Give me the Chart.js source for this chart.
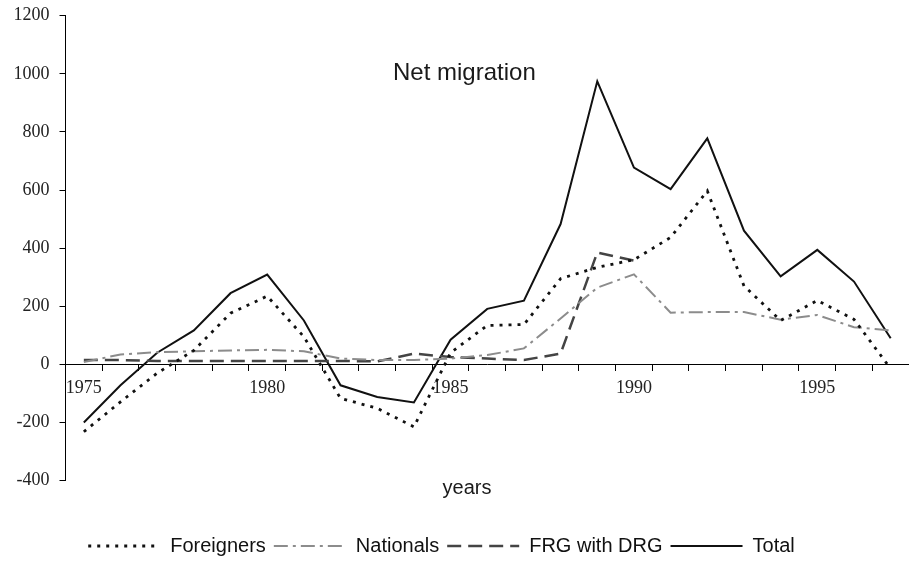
<!DOCTYPE html>
<html>
<head>
<meta charset="utf-8">
<script src="https://cdn.jsdelivr.net/npm/chart.js"></script>
<style>
html,body{margin:0;padding:0;background:#fff;overflow:hidden}
#wrap{width:909px;height:562px;position:relative}
</style>
</head>
<body>
<div id="wrap"><canvas id="c" width="909" height="562"></canvas></div>
<script>
// ---- data ----
const years = [1975,1976,1977,1978,1979,1980,1981,1982,1983,1984,1985,1986,1987,1988,1989,1990,1991,1992,1993,1994,1995,1996,1997];
const foreigners = [-232,-129,-30,48,176,235,95,-117,-151,-215,40,134,137,295,334,360,437,597,270,151,220,155,-15];
const nationals  = [8,34,42,45,48,50,45,20,15,15,20,32,55,158,264,310,178,180,180,154,170,128,117];
const frgWithDrg = [15,15,12,12,12,12,12,12,10,37,25,20,15,37,385,357,null,null,null,null,null,null,null];
const total      = [-200,-72,40,117,245,309,151,-72,-112,-131,85,191,219,483,974,677,603,778,460,303,394,285,90];
const seriesNames = ['Foreigners','Nationals','FRG with DRG','Total'];
const labeledYears = [1975,1980,1985,1990,1995];
const yTickValues = [-400,-200,0,200,400,600,800,1000,1200];
const chartTitle = 'Net migration';
const xAxisTitle = 'years';

const SERIF = "'Liberation Serif','Times New Roman',serif";
const SANS = "'Liberation Sans',Arial,sans-serif";
const LEG_SHIFT = -14;

const textPlugin = {
  id: 'texts',
  afterLayout(chart) {
    if (chart.legend) { chart.legend.left += LEG_SHIFT; chart.legend.right += LEG_SHIFT; }
  },
  afterDraw(chart) {
    const ctx = chart.ctx;
    ctx.save();
    ctx.fillStyle = '#1a1a1a';
    ctx.font = '24px ' + SANS;
    ctx.textAlign = 'left';
    ctx.textBaseline = 'alphabetic';
    ctx.fillText(chartTitle, 393, 79.5);
    ctx.font = '20px ' + SANS;
    ctx.textAlign = 'center';
    ctx.fillText(xAxisTitle, 467, 494);
    ctx.restore();
  }
};

const common = { pointRadius: 0, pointHoverRadius: 0, tension: 0, fill: false, borderCapStyle: 'butt', borderJoinStyle: 'miter', spanGaps: false };

new Chart(document.getElementById('c'), {
  type: 'line',
  data: {
    labels: years.map(String),
    datasets: [
      Object.assign({ label: seriesNames[0], data: foreigners, borderColor: '#111111', borderWidth: 2.8, borderDash: [3, 6] }, common),
      Object.assign({ label: seriesNames[1], data: nationals, borderColor: '#8c8c8c', borderWidth: 2, borderDash: [14, 5, 3, 5] }, common),
      Object.assign({ label: seriesNames[2], data: frgWithDrg, borderColor: '#444444', borderWidth: 2.5, borderDash: [14, 7] }, common),
      Object.assign({ label: seriesNames[3], data: total, borderColor: '#111111', borderWidth: 2 }, common)
    ]
  },
  options: {
    responsive: false,
    animation: false,
    devicePixelRatio: 1,
    layout: { padding: { top: 15.7, right: -2, bottom: -4, left: 0 } },
    plugins: {
      title: { display: false },
      tooltip: { enabled: false },
      legend: {
        display: true,
        position: 'bottom',
        align: 'center',
        title: { display: true, text: '', font: { size: 10, lineHeight: 1 }, padding: { top: 37.4, bottom: 0 } },
        labels: {
          usePointStyle: true,
          pointStyleWidth: 72,
          padding: 8,
          color: '#111',
          font: { family: SANS, size: 20 },
          generateLabels(chart) {
            return chart.data.datasets.map((ds, i) => ({
              text: ds.label,
              fillStyle: 'rgba(0,0,0,0)',
              strokeStyle: ds.borderColor,
              lineWidth: ds.borderWidth,
              lineDash: ds.borderDash || [],
              lineCap: 'butt',
              pointStyle: 'line',
              rotation: 0,
              hidden: false,
              datasetIndex: i,
              fontColor: '#111'
            }));
          }
        }
      }
    },
    scales: {
      x: {
        type: 'category',
        offset: true,
        position: { y: 0 },
        grid: { offset: true, drawOnChartArea: false, drawTicks: true, tickLength: 6, color: '#000', lineWidth: 1 },
        border: { display: true, color: '#000', width: 1 },
        ticks: {
          autoSkip: false, maxRotation: 0, minRotation: 0, padding: 7,
          color: '#222', font: { family: SERIF, size: 18 },
          callback(value, index) { const y = years[index]; return labeledYears.includes(y) ? String(y) : ''; }
        }
      },
      y: {
        type: 'linear',
        min: yTickValues[0],
        max: yTickValues[yTickValues.length - 1],
        grid: { drawOnChartArea: false, drawTicks: true, tickLength: 6, color: '#000', lineWidth: 1 },
        border: { display: true, color: '#000', width: 1 },
        ticks: {
          stepSize: yTickValues[1] - yTickValues[0], padding: 10,
          color: '#222', font: { family: SERIF, size: 18, lineHeight: 0.6 },
          callback(v) { return String(v); }
        },
        afterFit(scale) { scale.width = 65.5; }
      }
    }
  },
  plugins: [textPlugin]
});
</script>
</body>
</html>
